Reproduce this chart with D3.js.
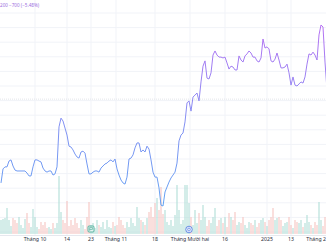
<!DOCTYPE html>
<html>
<head>
<meta charset="utf-8">
<script src="https://cdn.jsdelivr.net/npm/d3@7"></script>
<style>
  html, body { margin: 0; padding: 0; background: #fff; }
  svg { display: block; font-family: "Noto Sans", "DejaVu Sans", sans-serif; }
</style>
</head>
<body>
<div id="chart"></div>
<script>
// closing price per bar (VND)
const prices = [
  8380, 8860, 8930, 8930, 9130, 9170, 8960, 8820, 8790, 8790,
  8790, 8790, 8790, 8720, 8620, 8620, 8930, 9170, 9170, 9130,
  9100, 8890, 8790, 8750, 8790, 8790, 8650, 8690, 8930, 10300,
  10600, 10500, 10260, 10020, 9640, 9610, 9510, 9370, 9270, 9230,
  9440, 9470, 9400, 9030, 8690, 8690, 8750, 8790, 8790, 8750,
  8890, 8960, 9030, 9060, 9130, 9170, 9100, 9200, 8860, 8650,
  8480, 8380, 8340, 8580, 9200, 9230, 9340, 9580, 9750, 9750,
  9440, 9510, 9440, 9640, 9540, 9170, 8750, 8580, 8580, 8210,
  7620, 7590, 8070, 8240, 8410, 8550, 8650, 8750, 9060, 9820,
  10020, 10090, 10470, 11120, 11190, 10840, 11320, 11390, 11460, 11190,
  11840, 12380, 12560, 11970, 11940, 12150, 12760, 12900, 12760, 12690,
  12690, 12660, 12690, 12490, 12280, 12380, 12350, 12250, 12250, 12730,
  12590, 12520, 12730, 12800, 12900, 12830, 12690, 12690, 12560, 12520,
  12660, 13310, 13000, 13040, 12970, 12560, 12520, 12620, 12830, 12590,
  12320, 12320, 12350, 12450, 12150, 11730, 12010, 11730, 11700, 11770,
  11840, 11800, 12010, 12450, 12800, 12760, 12860, 12760, 12590, 13450,
  13790, 13720, 12520, 11560
];

// volume per bar (million shares)
const volumes = [
  1.4, 1.5, 1.6, 2.6, 1.4, 0.8, 1.6, 1.4, 1.1, 1.7,
  0.9, 0.6, 1.5, 2.1, 1.1, 0.7, 2.5, 1.7, 0.7, 0.5,
  1.2, 0.9, 1.2, 0.6, 0.7, 0.5, 1.1, 0.6, 1.1, 5.8,
  2.2, 1.4, 1.1, 3.3, 0.8, 1.4, 0.9, 1.6, 1.1, 0.6,
  1.4, 0.9, 0.5, 1.7, 3.2, 0.9, 1.1, 0.6, 1.4, 0.9,
  0.7, 1.2, 0.5, 1.4, 0.7, 0.6, 1.2, 0.8, 0.9, 1.7,
  1.4, 0.9, 0.6, 1.2, 0.7, 1.6, 1.1, 0.8, 2.7, 1.6,
  1.4, 1.2, 0.9, 1.6, 2.2, 2.7, 1.7, 3.1, 3.6, 2.4,
  4.7, 2.0, 2.4, 1.2, 0.9, 1.4, 0.8, 1.9, 4.9, 2.4,
  1.0, 1.4, 4.9, 4.9, 3.1, 1.7, 0.9, 2.4, 1.1, 2.1,
  1.4, 2.9, 1.7, 0.8, 1.4, 1.1, 1.7, 2.6, 0.8, 1.4,
  1.6, 1.1, 1.7, 0.7, 2.1, 1.7, 1.4, 2.2, 0.9, 1.2,
  1.1, 1.7, 0.9, 0.6, 1.2, 1.1, 0.9, 1.4, 0.7, 1.1,
  1.4, 1.6, 1.2, 0.8, 1.4, 1.7, 2.6, 1.4, 1.6, 1.7,
  1.4, 0.8, 1.1, 1.2, 1.7, 0.9, 0.6, 1.4, 1.2, 1.1,
  1.4, 0.7, 1.1, 1.9, 1.2, 0.9, 0.6, 1.2, 0.9, 3.2,
  1.4, 0.8, 1.7, 1.0
];

const tickIndex = [17, 33, 45, 57.5, 77, 94.5, 112, 133, 145, 163];
const tickLabels = ["Tháng 10", "14", "23", "Tháng 11", "18", "Tháng Mười hai", "16", "2025", "13", "Tháng 2"];

const priceTicks = d3.range(6700, 14201, 500);
const prevClose = 11250;
const headerText = "200 −700 (−5.48%)";

const width = 326;
const height = 245;
const axisY = 235;

const x = d3.scaleLinear().domain([0, prices.length - 1]).range([1, 327]);
const y = d3.scaleLinear().domain([6700, 14200]).range([232, 13]);
const yVol = d3.scaleLinear().domain([0, 6.2]).range([234, 172]);

const svg = d3.select("#chart").append("svg")
  .attr("width", width)
  .attr("height", height);

// gradient: blue at low prices, purple at high prices
const grad = svg.append("defs").append("linearGradient")
  .attr("id", "lineGrad")
  .attr("gradientUnits", "userSpaceOnUse")
  .attr("x1", 0).attr("x2", 0)
  .attr("y1", y(7600)).attr("y2", y(13800));
grad.append("stop").attr("offset", "0%").attr("stop-color", "#62a2f2");
grad.append("stop").attr("offset", "45%").attr("stop-color", "#8290f2");
grad.append("stop").attr("offset", "100%").attr("stop-color", "#b670f2");

// grid
svg.append("g")
  .selectAll("line")
  .data(priceTicks)
  .join("line")
  .attr("x1", 0).attr("x2", width)
  .attr("y1", d => y(d)).attr("y2", d => y(d))
  .attr("stroke", "#f1f3f8")
  .attr("stroke-width", 1);

svg.append("g")
  .selectAll("line")
  .data(tickIndex)
  .join("line")
  .attr("x1", d => x(d)).attr("x2", d => x(d))
  .attr("y1", 0).attr("y2", axisY)
  .attr("stroke", "#f1f3f8")
  .attr("stroke-width", 1);

// previous close
svg.append("line")
  .attr("x1", 0).attr("x2", width)
  .attr("y1", y(prevClose)).attr("y2", y(prevClose))
  .attr("stroke", "#e3e5ea")
  .attr("stroke-width", 1)
  .attr("stroke-dasharray", "1,1");

// volume bars
svg.append("g")
  .selectAll("rect")
  .data(volumes)
  .join("rect")
  .attr("x", (d, i) => x(i) - 0.5)
  .attr("y", d => yVol(d))
  .attr("width", 1)
  .attr("height", d => yVol(0) - yVol(d))
  .attr("fill", (d, i) => (i === 0 || prices[i] >= prices[i - 1]) ? "#a9dbd3" : "#f6bfbb");

// price line
svg.append("path")
  .datum(prices)
  .attr("fill", "none")
  .attr("stroke", "url(#lineGrad)")
  .attr("stroke-width", 1)
  .attr("stroke-linejoin", "round")
  .attr("d", d3.line().x((d, i) => x(i)).y(d => y(d)));

// bottom axis
svg.append("line")
  .attr("x1", 0).attr("x2", width)
  .attr("y1", axisY + 0.5).attr("y2", axisY + 0.5)
  .attr("stroke", "#e6e8ee");

svg.append("g")
  .selectAll("text")
  .data(tickIndex)
  .join("text")
  .attr("x", (d, i) => i === tickIndex.length - 1 ? width : x(d))
  .attr("y", 241)
  .attr("text-anchor", (d, i) => i === tickIndex.length - 1 ? "end" : "middle")
  .attr("font-size", 5.2)
  .attr("fill", "#2a2e39")
  .text((d, i) => tickLabels[i]);

// event markers
const flag = svg.append("g").attr("transform", `translate(${x(45)},229)`);
flag.append("rect")
  .attr("x", -3).attr("y", -3).attr("width", 6).attr("height", 6).attr("rx", 1)
  .attr("fill", "#e4f4f1").attr("stroke", "#3aa58f").attr("stroke-width", 0.8);
flag.append("path")
  .attr("d", "M-1.3,1.8V-1.6H1.4V0.4H-1.3")
  .attr("fill", "none").attr("stroke", "#3aa58f").attr("stroke-width", 0.6);

const dot = svg.append("g").attr("transform", `translate(${x(94)},229.5)`);
dot.append("circle").attr("r", 3.3)
  .attr("fill", "#e3eafc").attr("stroke", "#4e78e0").attr("stroke-width", 0.8);
dot.append("circle").attr("r", 1.4)
  .attr("fill", "none").attr("stroke", "#4e78e0").attr("stroke-width", 0.6);

// header
svg.append("text")
  .attr("x", 0)
  .attr("y", 6.5)
  .attr("font-size", 4.6)
  .attr("fill", "#9b6ee0")
  .text(headerText);
</script>
</body>
</html>
